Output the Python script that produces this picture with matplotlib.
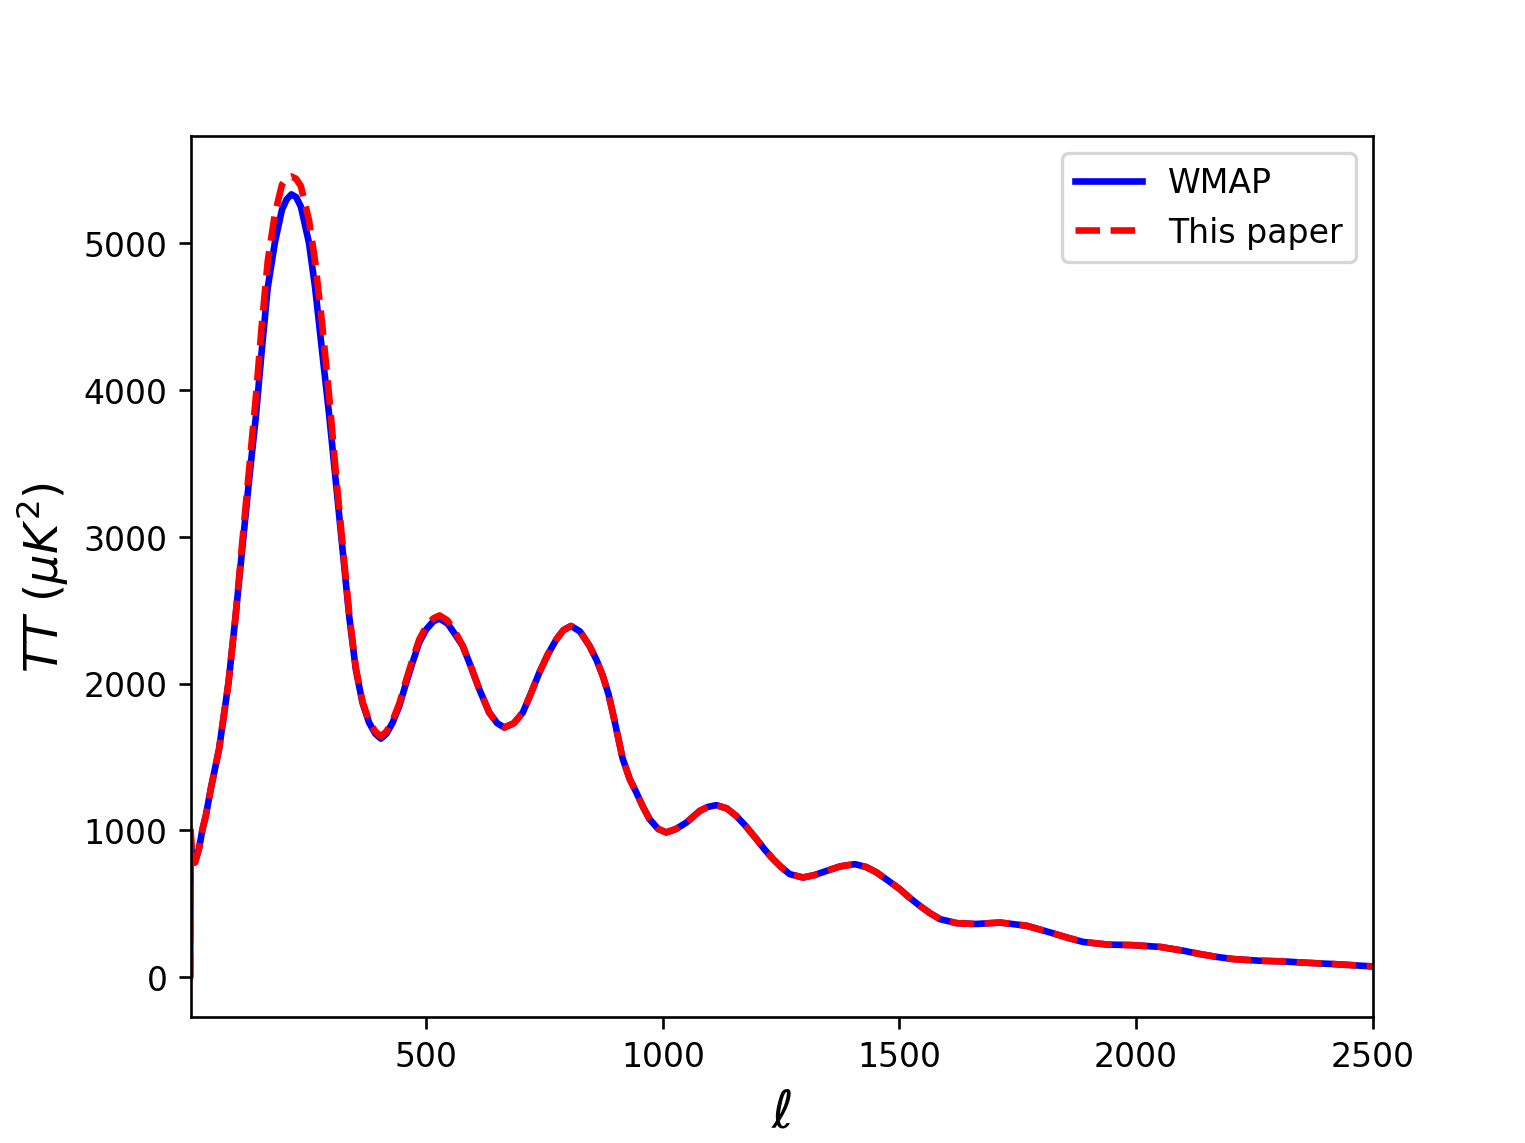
import matplotlib
matplotlib.use("Agg")
from matplotlib import pyplot as plt

# multipole values
ell = [0, 1, 2, 5, 11, 20, 27, 34, 45, 62, 82, 97, 111, 125, 140, 152, 165, 180,
       195, 205, 215, 225, 235, 252, 265, 280, 295, 309, 323, 337, 351, 365, 379,
       392, 404, 416, 429, 443, 457, 471, 485, 500, 515, 528, 545, 560, 577, 595,
       612, 633, 650, 665, 685, 704, 722, 739, 757, 775, 790, 806, 825, 845, 860,
       873, 885, 894, 905, 915, 930, 944, 958, 972, 990, 1007, 1028, 1050, 1078,
       1095, 1113, 1135, 1155, 1175, 1198, 1215, 1233, 1250, 1268, 1296, 1320,
       1346, 1375, 1406, 1430, 1452, 1475, 1501, 1520, 1543, 1565, 1586, 1621,
       1660, 1713, 1769, 1818, 1854, 1888, 1940, 1994, 2051, 2100, 2136, 2170,
       2206, 2260, 2312, 2360, 2418, 2460, 2500]

# TT spectrum, WMAP
tt_wmap = [0, 0, 930, 830, 781, 880, 1008, 1099, 1290, 1553, 2007, 2461, 2916,
           3372, 3824, 4260, 4700, 5005, 5230, 5300, 5334, 5315, 5250, 5005, 4700,
           4260, 3824, 3370, 2916, 2461, 2098, 1871, 1735, 1660, 1625, 1660, 1735,
           1848, 2000, 2144, 2280, 2370, 2425, 2443, 2410, 2340, 2257, 2110, 1962,
           1803, 1730, 1701, 1730, 1803, 1940, 2076, 2200, 2302, 2365, 2393, 2355,
           2257, 2160, 2053, 1930, 1803, 1640, 1490, 1349, 1258, 1160, 1076, 1010,
           986, 1010, 1054, 1133, 1160, 1172, 1150, 1099, 1030, 940, 870, 804, 750,
           702, 679, 695, 724, 755, 770, 750, 713, 660, 599, 545, 486, 435, 395, 368,
           362, 372, 350, 305, 270, 240, 222, 218, 206, 180, 157, 138, 123, 112, 107,
           98, 89, 81, 73]

# TT spectrum, this paper
tt_paper = [0, 0, 1000, 850, 781, 880, 1008, 1099, 1290, 1553, 2007, 2461, 2960,
            3440, 3960, 4430, 4880, 5200, 5400, 5445, 5456, 5440, 5390, 5160, 4880,
            4450, 3950, 3430, 2950, 2480, 2110, 1880, 1745, 1675, 1640, 1675, 1750,
            1865, 2020, 2165, 2300, 2390, 2445, 2465, 2430, 2360, 2257, 2110, 1962,
            1803, 1730, 1701, 1730, 1803, 1940, 2076, 2200, 2302, 2365, 2393, 2355,
            2257, 2160, 2053, 1930, 1803, 1640, 1490, 1349, 1258, 1160, 1076, 1010,
            986, 1010, 1054, 1133, 1160, 1172, 1150, 1099, 1030, 940, 870, 804, 750,
            702, 679, 695, 724, 755, 770, 750, 713, 660, 599, 545, 486, 435, 395, 368,
            362, 372, 350, 305, 270, 240, 222, 218, 206, 180, 157, 138, 123, 112, 107,
            98, 89, 81, 73]

fig = plt.figure(figsize=(6.4, 4.8), dpi=238.3)
plt.plot(ell, tt_wmap, color="blue", lw=2, label="WMAP")
plt.plot(ell, tt_paper, color="red", lw=2, ls="--", label="This paper")
plt.xlim(2, 2500)
plt.xlabel(r"$\ell$", fontsize=16)
plt.ylabel(r"$TT\ (\mu K^2)$", fontsize=14)
plt.legend(loc="upper right")
plt.savefig("out.png", dpi=238.3)
